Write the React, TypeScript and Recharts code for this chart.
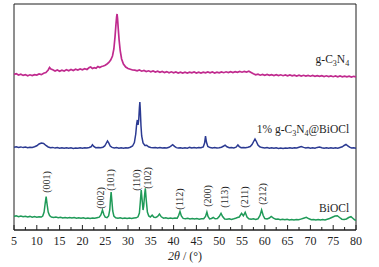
import React from "react";
import { LineChart, Line, XAxis, YAxis, ReferenceArea, ReferenceDot } from "recharts";

const FONT = '"Liberation Serif", "Times New Roman", serif';
const INK = "#1f1f1f";

// 2θ tick positions (major every 5, minor in between)
const XTICKS = [
  5, 7.5, 10, 12.5, 15, 17.5, 20, 22.5, 25, 27.5, 30, 32.5, 35, 37.5, 40, 42.5,
  45, 47.5, 50, 52.5, 55, 57.5, 60, 62.5, 65, 67.5, 70, 72.5, 75, 77.5, 80,
];

// g-C3N4 trace (stacked, top)
const gcn: [number, number][] = [
  [5, 155.5], [5.5, 156.3], [6, 155], [6.5, 155.8], [7, 154.6], [7.5, 155.4], [8, 154.3], [8.5, 155.2],
  [9, 154.4], [9.5, 155.4], [10, 154.9], [10.5, 156], [11, 155.4], [11.5, 156.8], [12, 157.5], [12.5, 160],
  [12.8, 162.5], [13.1, 161], [13.5, 160.2], [14, 159], [14.5, 160], [15, 158.8], [15.5, 159.8], [16, 159],
  [16.5, 160.2], [17, 159.2], [17.5, 160.5], [18, 159.5], [18.5, 160.8], [19, 160], [19.5, 161], [20, 160.2],
  [20.5, 161.3], [21, 160.5], [21.5, 162.5], [21.8, 163], [22.2, 161.5], [22.6, 162.3], [23, 161.8], [23.4, 163.5],
  [23.8, 162.5], [24.2, 163.5], [24.6, 164], [25, 164.8], [25.4, 166], [25.8, 167.5], [26.2, 170], [26.6, 174],
  [26.9, 181], [27.15, 193], [27.35, 205], [27.5, 213], [27.6, 216], [27.7, 212], [27.85, 202], [28.05, 190],
  [28.3, 179], [28.6, 171], [29, 166], [29.5, 163], [30, 161.5], [30.5, 160.8], [31, 160], [31.5, 159.8],
  [32, 159.2], [32.5, 160], [33, 158.8], [33.5, 159.5], [34, 158.5], [34.5, 159.2], [35, 158.2], [35.5, 159],
  [36, 158], [36.5, 158.8], [37, 157.7], [37.5, 158.5], [38, 157.5], [38.5, 158.4], [39, 157.3], [39.5, 158.2],
  [40, 157.2], [40.5, 158], [41, 157], [41.5, 157.9], [42, 157], [42.5, 157.8], [43, 157], [43.5, 157.9],
  [44, 157.1], [44.5, 158], [45, 157], [45.5, 157.8], [46, 157], [46.5, 157.9], [47, 157.2], [47.5, 158.1],
  [48, 157.2], [48.5, 158], [49, 157], [49.5, 157.9], [50, 157.1], [50.5, 158.1], [51, 157.3], [51.5, 158.2],
  [52, 157.4], [52.5, 158.3], [53, 157.5], [53.5, 158.4], [54, 157.6], [54.5, 158.5], [55, 157.8], [55.5, 158.6],
  [56, 158], [56.5, 158.8], [57, 157.5], [57.5, 156.2], [58, 155.2], [58.5, 155.8], [59, 154.8], [59.5, 155.6],
  [60, 154.7], [60.5, 155.5], [61, 154.6], [61.5, 155.4], [62, 154.5], [62.5, 155.3], [63, 154.4], [63.5, 155.2],
  [64, 154.3], [64.5, 155.1], [65, 154.2], [65.5, 155], [66, 154.1], [66.5, 154.9], [67, 154], [67.5, 154.8],
  [68, 154], [68.5, 154.7], [69, 153.9], [69.5, 154.6], [70, 153.8], [70.5, 154.5], [71, 153.7], [71.5, 154.4],
  [72, 153.6], [72.5, 154.3], [73, 153.5], [73.5, 154.2], [74, 153.4], [74.5, 154.1], [75, 153.3], [75.5, 154],
  [76, 153.2], [76.5, 154], [77, 153.2], [77.5, 153.9], [78, 153.1], [78.5, 153.8], [79, 153], [79.5, 153.7],
  [80, 153.2],
];

// 1% g-C3N4@BiOCl trace (middle)
const composite: [number, number][] = [
  [5, 82.8], [5.5, 83.3], [6, 82.6], [6.5, 83.1], [7, 82.4], [7.5, 82.9], [8, 82.3], [8.5, 82.8],
  [9, 82.5], [9.5, 83.2], [10, 84.2], [10.5, 86], [11, 87], [11.5, 86.6], [12, 84.5], [12.5, 83],
  [13, 82.2], [13.5, 82.6], [14, 81.9], [14.5, 82.4], [15, 81.8], [15.5, 82.3], [16, 81.7], [16.5, 82.2],
  [17, 81.7], [17.5, 82.2], [18, 81.6], [18.5, 82.1], [19, 81.7], [19.5, 82.2], [20, 81.8], [20.5, 82.3],
  [21, 81.9], [21.5, 82.5], [21.9, 83.2], [22.2, 85.3], [22.5, 83.6], [22.9, 82.3], [23.5, 82.6], [24, 82.2],
  [24.5, 82.8], [24.9, 84], [25.2, 86.5], [25.5, 89], [25.8, 86.8], [26.1, 84], [26.5, 82.6], [27, 82],
  [27.5, 82.4], [28, 81.8], [28.5, 82.2], [29, 81.8], [29.5, 82.3], [30, 82], [30.5, 82.8], [31, 84],
  [31.4, 87.5], [31.7, 96], [31.9, 106], [32.05, 110], [32.2, 105], [32.35, 110], [32.5, 122], [32.6, 128],
  [32.7, 120], [32.85, 104], [33, 94], [33.3, 87], [33.7, 84.5], [34.1, 84.8], [34.5, 83.2], [35, 82.6],
  [35.5, 82.2], [36, 82.6], [36.5, 82], [37, 82.4], [37.5, 81.9], [38, 82.3], [38.5, 82], [39, 82.7],
  [39.4, 83.8], [39.8, 85.3], [40.2, 83.6], [40.6, 82.4], [41, 81.9], [41.5, 82.3], [42, 81.7], [42.5, 82.2],
  [43, 81.8], [43.5, 82.6], [44, 82], [44.5, 82.5], [45, 82], [45.5, 82.4], [46, 82.2], [46.5, 83],
  [46.8, 87], [47, 94], [47.2, 88], [47.5, 83.5], [48, 82.4], [48.5, 82], [49, 82.4], [49.5, 81.9],
  [50, 82.3], [50.5, 82.8], [51, 84], [51.3, 84.8], [51.7, 83.2], [52.2, 82.2], [52.7, 82.5], [53.2, 82],
  [53.7, 82.8], [54.1, 85], [54.4, 83.4], [54.8, 82.3], [55.3, 82.6], [55.8, 82.3], [56.3, 82.8], [56.8, 83.5],
  [57.2, 85.5], [57.55, 88.5], [57.85, 91], [58.15, 88.5], [58.5, 85], [58.9, 83.2], [59.4, 82.4], [60, 82],
  [60.5, 82.4], [61, 81.8], [61.5, 82.3], [62, 81.7], [62.5, 82.2], [63, 81.6], [63.5, 82.1], [64, 81.6],
  [64.5, 82.1], [65, 81.7], [65.5, 82.2], [66, 81.8], [66.5, 82.3], [67, 82], [67.5, 82.8], [68, 83.5],
  [68.5, 82.6], [69, 82], [69.5, 82.4], [70, 81.8], [70.5, 82.3], [71, 81.8], [71.5, 82.6], [72, 83],
  [72.5, 82.3], [73, 81.8], [73.5, 82.2], [74, 81.7], [74.5, 82.2], [75, 81.7], [75.5, 82.2], [76, 81.8],
  [76.5, 82.5], [77, 83.2], [77.4, 84.5], [77.8, 85.5], [78.2, 84.2], [78.6, 82.8], [79, 82], [79.5, 82.3],
  [80, 81.8],
];

// BiOCl trace (bottom)
const biocl: [number, number][] = [
  [5, 13.6], [5.5, 14.2], [6, 13.3], [6.5, 14], [7, 13.2], [7.5, 13.8], [8, 13], [8.5, 13.6],
  [9, 12.8], [9.5, 13.4], [10, 12.8], [10.5, 13.3], [11, 13], [11.3, 14], [11.6, 18], [11.85, 27],
  [12.05, 33.3], [12.25, 26], [12.5, 18], [12.8, 14.5], [13.2, 13], [13.7, 12.5], [14.2, 12.9], [14.7, 12.3],
  [15.2, 12.8], [15.7, 12.1], [16.2, 12.6], [16.7, 12], [17.2, 12.5], [17.7, 11.9], [18.2, 12.4], [18.7, 11.8],
  [19.2, 12.3], [19.7, 11.7], [20.2, 12.2], [20.7, 11.6], [21.2, 12.1], [21.7, 11.6], [22.2, 12.1], [22.7, 11.7],
  [23.2, 12.3], [23.7, 12.8], [24.05, 15], [24.4, 20], [24.7, 15.5], [25, 12.8], [25.4, 12.4], [25.75, 14],
  [26, 20], [26.15, 30], [26.3, 38], [26.45, 30], [26.65, 19], [26.9, 14], [27.3, 12.3], [27.8, 11.8],
  [28.3, 12.2], [28.8, 11.6], [29.3, 12.1], [29.8, 11.5], [30.3, 12], [30.8, 11.5], [31.3, 12], [31.8, 12.2],
  [32.2, 13.2], [32.5, 17], [32.7, 28], [32.9, 40], [33.1, 30], [33.3, 20], [33.45, 24], [33.62, 34],
  [33.8, 41.7], [34, 30], [34.25, 18], [34.55, 14], [34.9, 13], [35.3, 14.8], [35.7, 12.8], [36.1, 12.6],
  [36.5, 13.5], [36.9, 16], [37.3, 13.2], [37.8, 11.8], [38.3, 12.2], [38.8, 11.5], [39.3, 12], [39.8, 11.4],
  [40.3, 11.9], [40.8, 11.8], [41.1, 14.5], [41.4, 18.5], [41.7, 14], [42.1, 11.6], [42.6, 11.2], [43.1, 11.7],
  [43.6, 11], [44.1, 11.5], [44.6, 10.9], [45.1, 11.4], [45.6, 10.8], [46.1, 11.3], [46.6, 11.2], [47, 13.5],
  [47.3, 18], [47.55, 13.5], [47.9, 11], [48.3, 11.5], [48.7, 12.5], [49.1, 11.2], [49.6, 11.4], [50, 13.5],
  [50.4, 16.7], [50.75, 13.5], [51.2, 11], [51.7, 10.7], [52.2, 11.2], [52.7, 10.6], [53.2, 11.2], [53.6, 11.8],
  [54, 12.5], [54.4, 13], [54.9, 16.7], [55.3, 14.2], [55.7, 17.7], [56.1, 13], [56.5, 11.3], [57, 10.8],
  [57.5, 11.2], [58, 10.6], [58.5, 11.2], [58.95, 14.5], [59.3, 20], [59.65, 14.5], [60, 11.5], [60.5, 11],
  [61, 12], [61.4, 13.5], [61.9, 11.8], [62.4, 10.7], [62.9, 11], [63.4, 10.3], [63.9, 10.8], [64.4, 10.2],
  [64.9, 10.7], [65.4, 10.1], [65.9, 10.6], [66.4, 10.1], [66.9, 10.6], [67.4, 10.2], [67.9, 10.9], [68.5, 11.8],
  [69.1, 12.6], [69.7, 11.2], [70.2, 10.3], [70.7, 10.6], [71.2, 10], [71.7, 10.5], [72.2, 9.9], [72.7, 10.4],
  [73.2, 10.1], [73.7, 10.8], [74.2, 11.5], [74.8, 12.8], [75.4, 14], [75.9, 14.3], [76.4, 12.5], [76.9, 10.8],
  [77.4, 10.4], [77.9, 11], [78.4, 12.5], [78.9, 13.3], [79.3, 11.8], [79.7, 10.2], [80, 9.6],
];

// peak indices for BiOCl
const peakNames = ["(001)", "(002)", "(101)", "(110)", "(102)", "(112)", "(200)", "(113)", "(211)", "(212)"];
const peakLabelX = [12.05, 23.9, 26.1, 31.9, 34.2, 41.4, 47.4, 51.1, 55.5, 59.6];
const peakLabelY = [48, 32, 50, 50, 52, 31, 34, 33, 33, 36];

const toRows = (pts: [number, number][]) => pts.map(([x, y]) => ({ x, y }));

function XTick(props: any) {
  const { x, y, payload } = props;
  const v = payload.value;
  const major = v % 5 === 0;
  return (
    <g>
      <line x1={x} x2={x} y1={y} y2={y - (major ? 5 : 3)} stroke={INK} strokeWidth={1} />
      {major && (
        <text x={x} y={y + 15} textAnchor="middle" fontSize={12} fontFamily={FONT} fill={INK}>
          {v}
        </text>
      )}
    </g>
  );
}

const peakLabel = (text: string) => (p: any) => (
  <text
    x={p.cx}
    y={p.cy}
    transform={`rotate(-90 ${p.cx} ${p.cy})`}
    textAnchor="middle"
    dominantBaseline="central"
    fontSize={10}
    fontFamily={FONT}
    fill={INK}
  >
    {text}
  </text>
);

const sampleLabel = (kind: string) => (p: any) => {
  const common = { x: p.cx, y: p.cy, textAnchor: "end" as const, fontSize: 11.5, fontFamily: FONT, fill: INK };
  if (kind === "bi") return <text {...common}>BiOCl</text>;
  return (
    <text {...common}>
      {kind === "mix" ? "1% g-C" : "g-C"}
      <tspan fontSize={8} dy={2.5}>3</tspan>
      <tspan dy={-2.5}>N</tspan>
      <tspan fontSize={8} dy={2.5}>4</tspan>
      <tspan dy={-2.5}>{kind === "mix" ? "@BiOCl" : ""}</tspan>
    </text>
  );
};

const axisTitle = (p: any) => {
  const vb = p.viewBox;
  return (
    <text x={vb.x + vb.width / 2} y={vb.y + 29.5} textAnchor="middle" fontSize={12} fontFamily={FONT} fill={INK}>
      <tspan fontStyle="italic">2θ</tspan> / (°)
    </text>
  );
};

export default function App() {
  return (
    <div style={{ position: "absolute", left: 0, top: 0, width: 379, height: 267, background: "#fff" }}>
      <LineChart width={379} height={267} margin={{ top: 4, right: 23, left: 14, bottom: 7 }}>
        <XAxis
          type="number"
          dataKey="x"
          domain={[5, 80]}
          ticks={XTICKS}
          interval={0}
          tickSize={0}
          tickMargin={0}
          tick={<XTick />}
          height={30}
          axisLine={{ stroke: INK }}
          label={{ content: axisTitle }}
          allowDataOverflow
        />
        <YAxis type="number" domain={[0, 226]} hide width={0} allowDataOverflow />
        <ReferenceArea x1={5} x2={80} y1={0} y2={226} fill="none" stroke={INK} strokeWidth={1} ifOverflow="visible" />
        <Line data={toRows(gcn)} dataKey="y" type="linear" stroke="#c02a8e" strokeWidth={1.7} dot={false} isAnimationActive={false} />
        <Line data={toRows(composite)} dataKey="y" type="linear" stroke="#2b3a92" strokeWidth={1.5} dot={false} isAnimationActive={false} />
        <Line data={toRows(biocl)} dataKey="y" type="linear" stroke="#1f9a58" strokeWidth={1.5} dot={false} isAnimationActive={false} />
        {peakNames.map((name, i) => (
          <ReferenceDot key={name} x={peakLabelX[i]} y={peakLabelY[i]} r={0} shape={peakLabel(name)} />
        ))}
        <ReferenceDot x={78.5} y={167} r={0} shape={sampleLabel("gcn")} />
        <ReferenceDot x={78.5} y={97} r={0} shape={sampleLabel("mix")} />
        <ReferenceDot x={78.5} y={18.5} r={0} shape={sampleLabel("bi")} />
      </LineChart>
    </div>
  );
}
